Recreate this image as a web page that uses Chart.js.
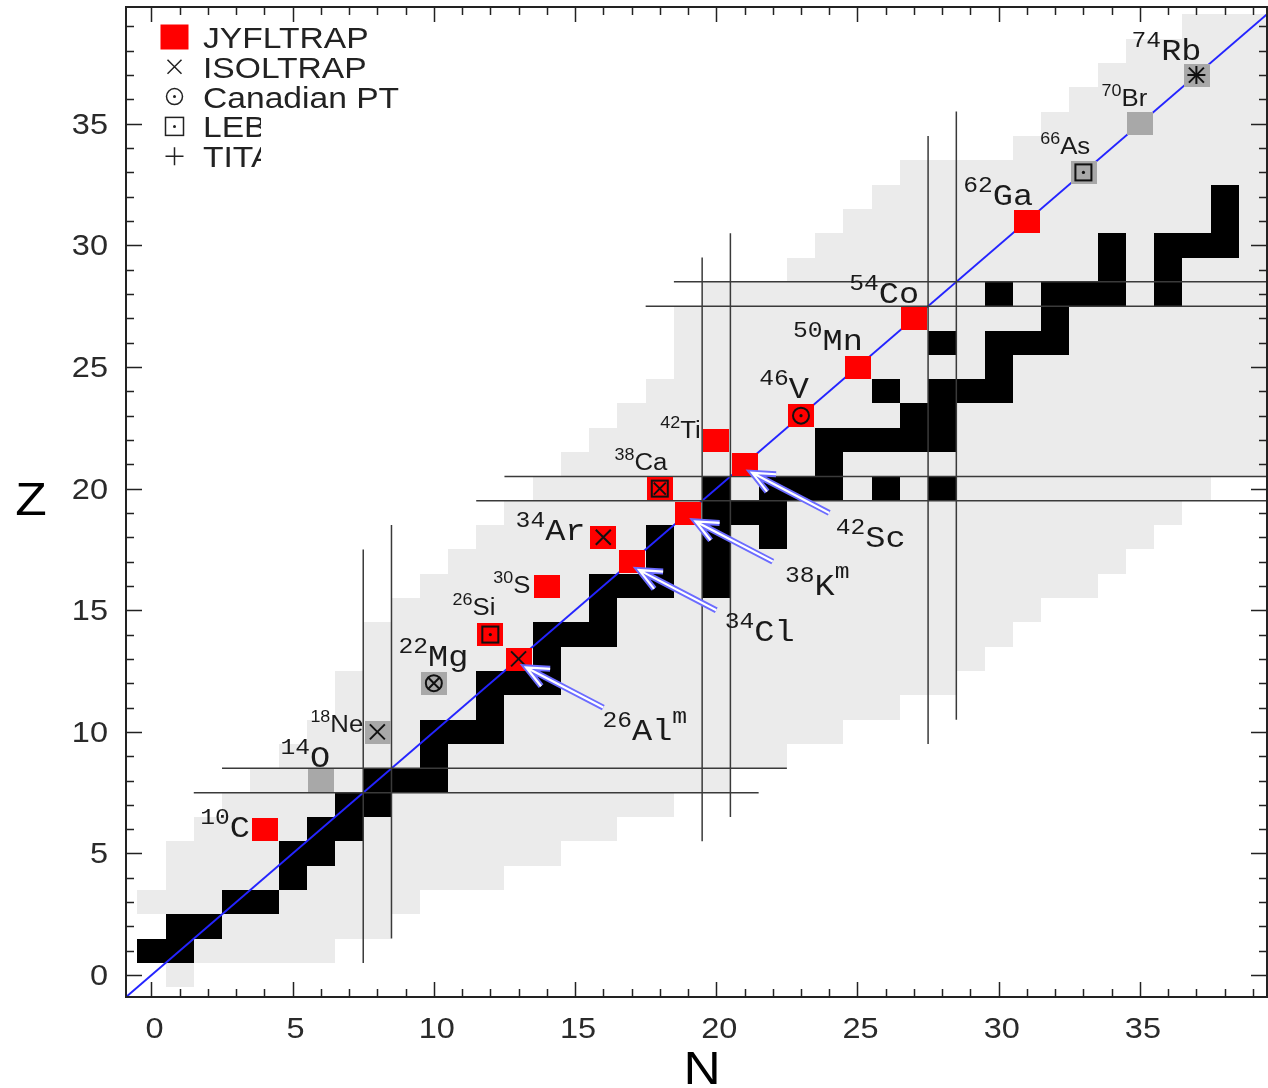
<!DOCTYPE html>
<html>
<head>
<meta charset="utf-8">
<title>N-Z chart</title>
<script src="https://cdn.jsdelivr.net/npm/chart.js@4.4.1/dist/chart.umd.min.js"></script>
<style>
  html, body { margin: 0; padding: 0; background: #fff; }
  #wrap { width: 1268px; height: 1088px; }
</style>
</head>
<body>
<div id="wrap"><canvas id="nz" width="1268" height="1088"></canvas></div>
<script>
// ---- data ----
// known nuclides: one row per Z, from lowest to highest N
const zRows     = [0, 1, 2, 3, 4, 5, 6, 7, 8, 9, 10, 11, 12, 13, 14, 15, 16, 17, 18, 19,
                   20, 21, 22, 23, 24, 25, 26, 27, 28, 29, 30, 31, 32, 33, 34, 35, 36, 37, 38, 39];
const knownMinN = [1, 0, 1, 0, 1, 1, 2, 3, 4, 5, 6, 7, 7, 8, 8, 9, 10, 11, 12, 13,
                   14, 15, 16, 17, 18, 19, 19, 19, 20, 23, 24, 25, 26, 27, 31, 32, 33, 34, 35, 37];
const knownMaxN = [1, 6, 8, 9, 12, 14, 16, 18, 20, 22, 24, 26, 28, 29, 30, 31, 33, 34, 35, 36,
                   37, 40, 40, 40, 40, 40, 40, 40, 40, 40, 40, 40, 40, 40, 40, 40, 40, 40, 40, 40];

// stable nuclides, N values listed per Z (index = Z)
const stableN = [
  [], [0, 1], [1, 2], [3, 4], [5], [5, 6], [6, 7], [7, 8], [8, 9, 10], [10],
  [10, 11, 12], [12], [12, 13, 14], [14], [14, 15, 16], [16], [16, 17, 18, 20], [18, 20], [18, 20, 22], [20, 21, 22],
  [20, 22, 23, 24, 26, 28], [24], [24, 25, 26, 27, 28], [27, 28], [26, 28, 29, 30], [30], [28, 30, 31, 32], [32], [30, 32, 33, 34, 36], [34, 36],
  [34, 36, 37, 38], [38], [38]
];

// superallowed emitters
const isoMass   = [10, 14, 18, 22, 26, 26, 30, 34, 34, 38, 38, 42, 42, 46, 50, 54, 62, 66, 70, 74];
const isoSymbol = ['C', 'O', 'Ne', 'Mg', 'Si', 'Al', 'S', 'Ar', 'Cl', 'Ca', 'K', 'Ti', 'Sc', 'V', 'Mn', 'Co', 'Ga', 'As', 'Br', 'Rb'];
const isoIsomer = ['', '', '', '', '', 'm', '', '', '', '', 'm', '', '', '', '', '', '', '', '', ''];
const isoZ      = [6, 8, 10, 12, 14, 13, 16, 18, 17, 20, 19, 22, 21, 23, 25, 27, 31, 33, 35, 37];
const isoN      = [4, 6, 8, 10, 12, 13, 14, 16, 17, 18, 19, 20, 21, 23, 25, 27, 31, 33, 35, 37];
const isoJyfl   = [1, 0, 0, 0, 1, 1, 1, 1, 1, 1, 1, 1, 1, 1, 1, 1, 1, 0, 0, 0];

// other Penning traps
const isoltrap   = ['18Ne', '22Mg', '26Alm', '34Ar', '38Ca', '74Rb'];
const canadianPT = ['22Mg', '46V'];
const lebit      = ['26Si', '38Ca', '66As'];
const titan      = ['74Rb'];
const legendNames = ['JYFLTRAP', 'ISOLTRAP', 'Canadian PT', 'LEBIT', 'TITAN'];

// shell closures (magic numbers 8, 20, 28)
const shellN      = [7.5, 8.5, 19.5, 20.5, 27.5, 28.5];
const shellNZfrom = [0.5, 1.5, 5.5, 6.5, 9.5, 10.5];
const shellNZto   = [17.5, 18.5, 29.5, 30.5, 34.5, 35.5];
const shellZ      = [7.5, 8.5, 19.5, 20.5, 27.5, 28.5];
const shellZNfrom = [1.5, 2.5, 11.5, 12.5, 17.5, 18.5];
const shellZNto   = [21.5, 22.5, 40, 40, 40, 40];

const xTickLabels = [0, 5, 10, 15, 20, 25, 30, 35];
const yTickLabels = [0, 5, 10, 15, 20, 25, 30, 35];

// ---- label layout (offsets in cell units from the nuclide) ----
const labelDN   = [-0.51, 0.33, -0.5, 1.22, 0.18, 2.97, -0.58, -0.63, 3.3, 0.27, 3.43, -0.55, 3.23, 0.28, 0.19, 0.18, 0.22, 0.24, 0.26, 0.18];
const labelDZ   = [-0.34, 0.54, 0, 0.7, 0.8, -3.35, -0.3, -0.12, -3.27, 0.77, -3.38, 0.08, -3.4, 0.73, 0.7, 0.65, 0.68, 0.74, 0.74, 0.64];
const labelMono = [1, 1, 0, 1, 0, 1, 0, 1, 1, 0, 1, 0, 1, 1, 1, 1, 1, 0, 0, 1];
const arrowed   = ['26Alm', '34Cl', '38Km', '42Sc'];

const SX = 1.12; // the original is a bit wider than tall
const SANS = '"Liberation Sans", Arial, sans-serif';
const MONO = '"Liberation Mono", "Courier New", monospace';

function isoKey(i) { return isoMass[i] + isoSymbol[i] + isoIsomer[i]; }

function txt(ctx, s, x, y, font, align, color) {
  ctx.save();
  ctx.font = font;
  ctx.fillStyle = color || '#111';
  ctx.textAlign = align || 'left';
  ctx.textBaseline = 'alphabetic';
  ctx.translate(x, y);
  ctx.scale(SX, 1);
  ctx.fillText(s, 0, 0);
  ctx.restore();
}

function tw(ctx, s, font) {
  ctx.save();
  ctx.font = font;
  const w = ctx.measureText(s).width * SX;
  ctx.restore();
  return w;
}

function crossX(ctx, cx, cy, s) {
  ctx.beginPath();
  ctx.moveTo(cx - s, cy - s); ctx.lineTo(cx + s, cy + s);
  ctx.moveTo(cx + s, cy - s); ctx.lineTo(cx - s, cy + s);
  ctx.stroke();
}
function crossPlus(ctx, cx, cy, s) {
  ctx.beginPath();
  ctx.moveTo(cx - s, cy); ctx.lineTo(cx + s, cy);
  ctx.moveTo(cx, cy - s); ctx.lineTo(cx, cy + s);
  ctx.stroke();
}
function circleDot(ctx, cx, cy, r, dot) {
  ctx.beginPath(); ctx.arc(cx, cy, r, 0, Math.PI * 2); ctx.stroke();
  if (dot) { ctx.beginPath(); ctx.arc(cx, cy, dot, 0, Math.PI * 2); ctx.fill(); }
}
function squareDot(ctx, cx, cy, h, dot) {
  ctx.strokeRect(cx - h, cy - h, 2 * h, 2 * h);
  if (dot) { ctx.beginPath(); ctx.arc(cx, cy, dot, 0, Math.PI * 2); ctx.fill(); }
}

function drawArrow(ctx, x0, y0, x1, y1) {
  const ang = Math.atan2(y0 - y1, x0 - x1);
  const L = 24, spread = 0.42;
  const path = () => {
    ctx.beginPath();
    ctx.moveTo(x0, y0); ctx.lineTo(x1, y1);
    ctx.moveTo(x1 + L * Math.cos(ang + spread), y1 + L * Math.sin(ang + spread));
    ctx.lineTo(x1, y1);
    ctx.lineTo(x1 + L * Math.cos(ang - spread), y1 + L * Math.sin(ang - spread));
  };
  ctx.lineCap = 'butt'; ctx.lineJoin = 'miter';
  path(); ctx.strokeStyle = '#6b6bff'; ctx.lineWidth = 6; ctx.stroke();
  path(); ctx.strokeStyle = '#ffffff'; ctx.lineWidth = 2.2; ctx.stroke();
}

function drawIsoLabel(ctx, i, px, py, align) {
  const mono = labelMono[i];
  const fSup = mono ? '22px ' + MONO : '16px ' + SANS;
  const fSym = mono ? '30px ' + MONO : '23px ' + SANS;
  const rise = mono ? 13 : 10;
  const m = String(isoMass[i]);
  const wM = tw(ctx, m, fSup), wS = tw(ctx, isoSymbol[i], fSym);
  const x0 = align === 'right' ? px - wM - wS : px;
  txt(ctx, m, x0, py - rise, fSup, 'left', '#1a1a1a');
  txt(ctx, isoSymbol[i], x0 + wM, py, fSym, 'left', '#1a1a1a');
  if (isoIsomer[i]) txt(ctx, isoIsomer[i], x0 + wM + wS, py - 17, fSup, 'left', '#1a1a1a');
}

const nzPlugin = {
  id: 'nzChart',
  beforeDatasetsDraw(chart) {
    const { ctx, chartArea: a, scales: { x, y } } = chart;
    const px = v => Math.round(x.getPixelForValue(v));
    const py = v => Math.round(y.getPixelForValue(v));
    ctx.save();
    ctx.beginPath();
    ctx.rect(a.left, a.top, a.right - a.left, a.bottom - a.top);
    ctx.clip();
    // known nuclides
    ctx.fillStyle = '#ebebeb';
    zRows.forEach((z, i) => {
      const x0 = px(knownMinN[i] - 0.5), x1 = px(knownMaxN[i] + 0.5);
      const y0 = py(z + 0.5), y1 = py(z - 0.5);
      ctx.fillRect(x0, y0, x1 - x0, y1 - y0);
    });
    // stable nuclides
    ctx.fillStyle = '#000';
    stableN.forEach((list, z) => list.forEach(n => {
      const x0 = px(n - 0.5), x1 = px(n + 0.5), y0 = py(z + 0.5), y1 = py(z - 0.5);
      ctx.fillRect(x0, y0, x1 - x0, y1 - y0);
    }));
    ctx.restore();
  },
  afterDatasetsDraw(chart) {
    const { ctx, chartArea: a, scales: { x, y } } = chart;
    const hw = (x.getPixelForValue(0.455) - x.getPixelForValue(0));
    const hh = (y.getPixelForValue(0) - y.getPixelForValue(0.465));
    ctx.save();

    // measured nuclides
    isoMass.forEach((m, i) => {
      const cx = x.getPixelForValue(isoN[i]), cy = y.getPixelForValue(isoZ[i]);
      ctx.fillStyle = isoJyfl[i] ? '#ff0000' : '#a8a8a8';
      ctx.fillRect(Math.round(cx - hw), Math.round(cy - hh), Math.round(2 * hw), Math.round(2 * hh));
    });

    // symbols of the other traps
    ctx.strokeStyle = '#111'; ctx.fillStyle = '#111'; ctx.lineWidth = 2;
    isoMass.forEach((m, i) => {
      const key = isoKey(i);
      const cx = x.getPixelForValue(isoN[i]), cy = y.getPixelForValue(isoZ[i]);
      if (lebit.includes(key)) squareDot(ctx, cx, cy, 8, isoltrap.includes(key) ? 0 : 1.6);
      if (canadianPT.includes(key)) circleDot(ctx, cx, cy, 8, isoltrap.includes(key) ? 0 : 1.6);
      if (isoltrap.includes(key)) crossX(ctx, cx, cy, canadianPT.includes(key) || lebit.includes(key) ? 6 : 7.5);
      if (titan.includes(key)) crossPlus(ctx, cx, cy, 9);
    });

    // labels and arrows
    isoMass.forEach((m, i) => {
      const key = isoKey(i);
      if (arrowed.includes(key)) {
        const tx = x.getPixelForValue(isoN[i] + 3), ty = y.getPixelForValue(isoZ[i] - 2);
        const hx = x.getPixelForValue(isoN[i] + 0.27), hy = y.getPixelForValue(isoZ[i] - 0.35);
        drawArrow(ctx, tx, ty, hx, hy);
        drawIsoLabel(ctx, i, x.getPixelForValue(isoN[i] + labelDN[i]), y.getPixelForValue(isoZ[i] + labelDZ[i]), 'left');
      } else {
        drawIsoLabel(ctx, i, x.getPixelForValue(isoN[i] + labelDN[i]), y.getPixelForValue(isoZ[i] + labelDZ[i]), 'right');
      }
    });

    // frame and inward ticks on all four sides
    ctx.strokeStyle = '#222'; ctx.lineWidth = 1.5; ctx.lineCap = 'butt';
    ctx.beginPath();
    for (let v = Math.ceil(x.min); v <= x.max; v++) {
      const p = Math.round(x.getPixelForValue(v)) + 0.5;
      const len = v % 5 === 0 ? 15 : 8;
      ctx.moveTo(p, a.bottom); ctx.lineTo(p, a.bottom - len);
      ctx.moveTo(p, a.top); ctx.lineTo(p, a.top + len);
    }
    for (let v = Math.ceil(y.min); v <= y.max; v++) {
      const p = Math.round(y.getPixelForValue(v)) + 0.5;
      const len = v % 5 === 0 ? 16 : 8;
      ctx.moveTo(a.left, p); ctx.lineTo(a.left + len, p);
      ctx.moveTo(a.right, p); ctx.lineTo(a.right - len, p);
    }
    ctx.stroke();
    ctx.lineWidth = 2;
    ctx.strokeRect(a.left, a.top, a.right - a.left, a.bottom - a.top);

    // tick labels
    xTickLabels.forEach(v => txt(ctx, String(v), x.getPixelForValue(v) + 3, a.bottom + 41, '29px ' + SANS, 'center', '#2a2a2a'));
    yTickLabels.forEach(v => txt(ctx, String(v), 108, y.getPixelForValue(v) + 10, '29px ' + SANS, 'right', '#2a2a2a'));

    // axis titles
    txt(ctx, 'N', 702, 1084, '46px ' + SANS, 'center', '#000');
    txt(ctx, 'Z', 31, 515, '46px ' + SANS, 'center', '#000');

    // legend
    const lx = 174.5, ly0 = 37, ldy = 29.8, textX = 203;
    ctx.fillStyle = '#ff0000';
    ctx.fillRect(lx - 14, ly0 - 12.5, 28, 25);
    ctx.strokeStyle = '#222'; ctx.fillStyle = '#222'; ctx.lineWidth = 1.5;
    crossX(ctx, lx, ly0 + ldy, 7);
    circleDot(ctx, lx, ly0 + 2 * ldy, 8, 1.5);
    squareDot(ctx, lx, ly0 + 3 * ldy, 9, 1.5);
    crossPlus(ctx, lx, ly0 + 4 * ldy, 9);
    legendNames.forEach((name, i) => {
      ctx.save();
      if (i >= 3) { ctx.beginPath(); ctx.rect(0, 0, 261, 400); ctx.clip(); }
      txt(ctx, name, textX, ly0 + i * ldy + 11, '30px ' + SANS, 'left', '#222');
      ctx.restore();
    });

    ctx.restore();
  }
};

// ---- datasets: shell closure lines and the N = Z line ----
const shellStyle = { showLine: true, pointRadius: 0, borderColor: '#3a3a3a', borderWidth: 1.5, fill: false };
const datasets = [];
shellN.forEach((n, i) => datasets.push({ ...shellStyle, data: [{ x: n, y: shellNZfrom[i] }, { x: n, y: shellNZto[i] }] }));
shellZ.forEach((z, i) => datasets.push({ ...shellStyle, data: [{ x: shellZNfrom[i], y: z }, { x: shellZNto[i], y: z }] }));
datasets.push({ showLine: true, pointRadius: 0, borderColor: '#2424ff', borderWidth: 2, fill: false,
  data: [{ x: -1, y: -1 }, { x: 40, y: 40 }] });

new Chart(document.getElementById('nz').getContext('2d'), {
  type: 'scatter',
  data: { datasets: datasets },
  options: {
    responsive: false,
    animation: false,
    devicePixelRatio: 1,
    events: [],
    layout: { padding: { left: 126, top: 7, right: 1, bottom: 91 } },
    plugins: { legend: { display: false }, tooltip: { enabled: false } },
    scales: {
      x: { type: 'linear', min: -0.9, max: 39.5, display: false },
      y: { type: 'linear', min: -0.9, max: 39.8, display: false }
    }
  },
  plugins: [nzPlugin]
});
</script>
</body>
</html>
